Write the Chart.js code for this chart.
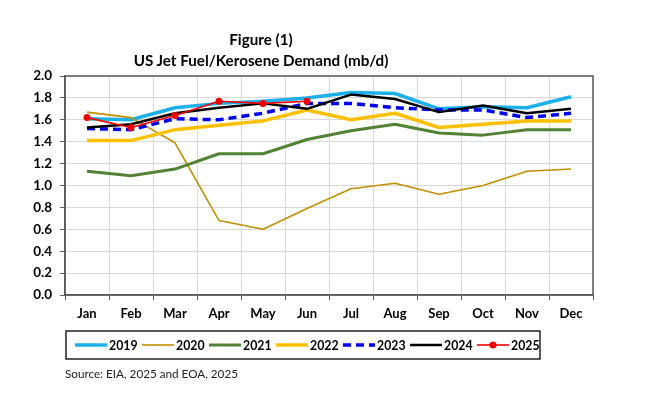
<!DOCTYPE html>
<html>
<head>
<meta charset="utf-8">
<script src="https://cdn.jsdelivr.net/npm/chart.js@4.4.1/dist/chart.umd.min.js"></script>
<style>
    html, body { margin: 0; padding: 0; background: #fff; }
    #wrap { position: relative; width: 650px; height: 397px; }
    .ttl { position: absolute; left: 0; width: 522px; text-align: center; font-family: Lato, sans-serif; font-weight: bold; font-size: 15.2px; color: #000; line-height: 20px; }
    #src { position: absolute; left: 65px; top: 365px; font-family: Lato, sans-serif; font-size: 11.7px; color: #222; line-height: 16px; }
</style>
</head>
<body>
<div id="wrap">
    <canvas id="chart" width="650" height="397"></canvas>
    <div class="ttl" style="top:29px">Figure (1)</div>
    <div class="ttl" style="top:50px">US Jet Fuel/Kerosene Demand (mb/d)</div>
    <div id="src">Source: EIA, 2025 and EOA, 2025</div>
</div>
<script>
const months = ['Jan', 'Feb', 'Mar', 'Apr', 'May', 'Jun', 'Jul', 'Aug', 'Sep', 'Oct', 'Nov', 'Dec'];
const yTicks = [0, 0.2, 0.4, 0.6, 0.8, 1.0, 1.2, 1.4, 1.6, 1.8, 2.0];

const v2019 = [1.61, 1.60, 1.71, 1.75, 1.77, 1.80, 1.85, 1.84, 1.70, 1.72, 1.71, 1.81];
const v2020 = [1.67, 1.62, 1.39, 0.68, 0.60, 0.79, 0.97, 1.02, 0.92, 1.00, 1.13, 1.15];
const v2021 = [1.13, 1.09, 1.15, 1.29, 1.29, 1.42, 1.50, 1.56, 1.48, 1.46, 1.51, 1.51];
const v2022 = [1.41, 1.41, 1.51, 1.55, 1.59, 1.69, 1.60, 1.66, 1.53, 1.56, 1.59, 1.59];
const v2023 = [1.52, 1.51, 1.61, 1.60, 1.66, 1.75, 1.75, 1.71, 1.69, 1.69, 1.62, 1.66];
const v2024 = [1.53, 1.56, 1.66, 1.71, 1.75, 1.70, 1.83, 1.79, 1.67, 1.73, 1.66, 1.70];
const v2025 = [1.62, 1.53, 1.64, 1.77, 1.75, 1.77];

const font = 'Lato';

const line = (label, data, color, width, order, extra) => Object.assign({
    label: label,
    data: data,
    borderColor: color,
    backgroundColor: color,
    borderWidth: width,
    pointRadius: 0,
    tension: 0,
    fill: false,
    borderJoinStyle: 'round',
    order: order
}, extra || {});

const datasets = [
    line('2019', v2019, '#1CB0EA', 3.5, 6),
    line('2020', v2020, '#BF9000', 1.6, 5),
    line('2021', v2021, '#548235', 3, 4),
    line('2022', v2022, '#FFC000', 3.5, 3),
    line('2023', v2023, '#0000F0', 3.5, 2, {borderDash: [8, 5]}),
    line('2024', v2024, '#000000', 2.5, 1),
    line('2025', v2025, '#F00000', 1.6, 0, {pointRadius: 3.5, pointBorderWidth: 0})
];

// frame round the plot area plus the boxed legend under the month labels
const frame = {
    id: 'frame',
    afterDraw(chart) {
        const {ctx, chartArea: a} = chart;
        ctx.save();
        ctx.strokeStyle = '#595959';
        ctx.lineWidth = 1.5;
        ctx.strokeRect(a.left, a.top, a.right - a.left, a.bottom - a.top);

        // legend
        ctx.strokeStyle = '#000';
        ctx.lineWidth = 1.3;
        ctx.strokeRect(66, 331, 474, 28);
        ctx.font = `bold 12.3px "${font}"`;
        ctx.textBaseline = 'middle';
        ctx.fillStyle = '#000';
        chart.data.datasets.forEach((ds, i) => {
            const x = 75 + i * 67, y = 345;
            ctx.save();
            ctx.strokeStyle = ds.borderColor;
            ctx.lineWidth = ds.borderWidth;
            ctx.setLineDash(ds.borderDash || []);
            ctx.beginPath();
            ctx.moveTo(x, y);
            ctx.lineTo(x + 32, y);
            ctx.stroke();
            if (ds.pointRadius) {
                ctx.fillStyle = ds.borderColor;
                ctx.beginPath();
                ctx.arc(x + 16, y, ds.pointRadius, 0, Math.PI * 2);
                ctx.fill();
            }
            ctx.restore();
            ctx.fillText(ds.label, x + 34, y + 1);
        });
        ctx.restore();
    }
};

new Chart(document.getElementById('chart'), {
    type: 'line',
    data: { labels: months, datasets: datasets },
    options: {
        responsive: false,
        animation: false,
        layout: { padding: { top: 76, right: 57, bottom: 0, left: 0 } },
        plugins: { legend: { display: false }, title: { display: false }, tooltip: { enabled: false } },
        scales: {
            x: {
                offset: true,
                grid: { offset: true, color: '#D9D9D9', tickColor: '#595959', tickLength: 5 },
                border: { color: '#595959', width: 1.5 },
                ticks: { color: '#000', padding: 6, font: { family: font, weight: 'bold', size: 13 } },
                afterFit: (s) => { s.height = 102; }
            },
            y: {
                min: 0,
                max: 2,
                afterBuildTicks: (s) => { s.ticks = yTicks.map(v => ({value: v})); },
                grid: { color: '#D9D9D9', tickColor: '#595959', tickLength: 5 },
                border: { color: '#595959', width: 1.5 },
                ticks: { color: '#000', padding: 8, font: { family: font, weight: 'bold', size: 13.5 }, callback: (v) => v.toFixed(1) },
                afterFit: (s) => { s.width = 65; }
            }
        }
    },
    plugins: [frame]
});
</script>
</body>
</html>
